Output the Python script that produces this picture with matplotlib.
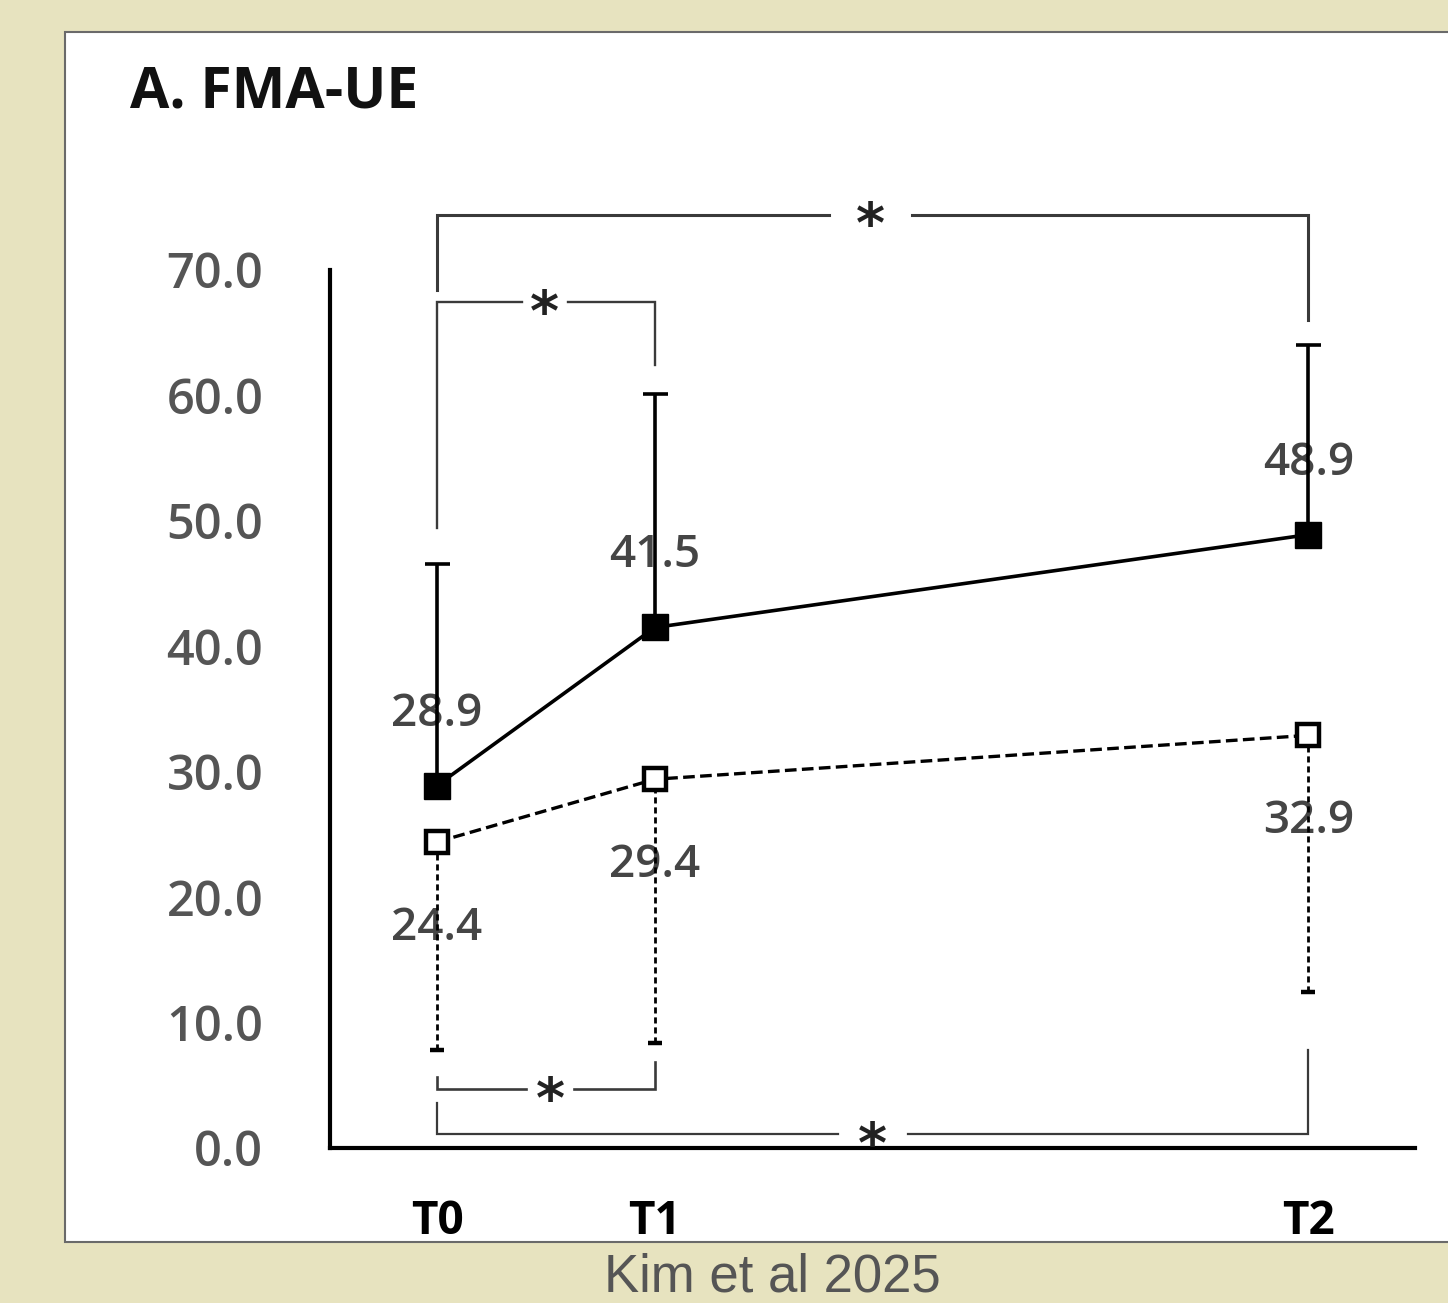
import matplotlib.pyplot as plt
from matplotlib.patches import Rectangle
import numpy as np

# data
time_labels = ["T0", "T1", "T2"]
time_pos = [0, 1, 4]
exp_mean = [28.9, 41.5, 48.9]
exp_sd = [17.7, 18.6, 15.1]
ctl_mean = [24.4, 29.4, 32.9]
ctl_sd = [16.6, 21.0, 20.5]
yticks = [0, 10, 20, 30, 40, 50, 60, 70]

# significance brackets: (x_start, x_end, y_line, y_leg_start, y_leg_end, gap_lo, gap_hi, lw)
brackets = [
    (0, 4, 74.4, 68.4, 66.0, 1.80, 2.18, 2.2),
    (0, 1, 67.45, 49.4, 62.4, 0.39, 0.60, 1.7),
    (0, 1, 4.7, 5.66, 6.86, 0.41, 0.63, 1.9),
    (0, 4, 1.1, 3.6, 7.8, 1.84, 2.16, 1.6),
]

W, H = 1448, 1303
fig = plt.figure(figsize=(W / 100, H / 100), dpi=100)
fig.patch.set_facecolor("#e7e3bf")
fig.patches.append(Rectangle((65 / W, 1 - 1242 / H), 1.0, (1242 - 32) / H,
                             transform=fig.transFigure, facecolor="white",
                             edgecolor="#6a6a6a", linewidth=1.5, zorder=-10))

ppu = (1148 - 270) / 70.0
y_top = 75.0
ax_top = 1148 - y_top * ppu
ax = fig.add_axes([330 / W, 1 - 1148 / H, (1415 - 330) / W, (1148 - ax_top) / H])
ax.set_facecolor("none")
ax.set_xlim(-0.4915, 4.49)
ax.set_ylim(0, y_top)

for s in ["top", "right"]:
    ax.spines[s].set_visible(False)
ax.spines["left"].set_bounds(0, 70)
ax.spines["left"].set_linewidth(3)
ax.spines["bottom"].set_linewidth(3)

ax.set_yticks(yticks)
ax.set_yticklabels([f"{v:.1f}" for v in yticks], fontsize=35, color="#555555",
                   fontfamily="Open Sans", fontweight="semibold")
ax.set_xticks(time_pos)
ax.set_xticklabels(time_labels, fontsize=33, color="black",
                   fontfamily="Open Sans", fontweight="bold")
ax.tick_params(axis="y", length=0, pad=48)
ax.tick_params(axis="x", length=0, pad=36)

# experimental group (filled, solid)
eb1 = ax.errorbar(time_pos, exp_mean, yerr=[np.zeros(3), exp_sd], color="black",
                  lw=2.6, capsize=9, capthick=2.6, elinewidth=2.6,
                  marker="s", markersize=19, mfc="black", mec="black", zorder=4)

# control group (open, dashed)
eb2 = ax.errorbar(time_pos, ctl_mean, yerr=[ctl_sd, np.zeros(3)], color="black",
                  lw=2.4, ls=(0, (3.5, 1.6)), capsize=5, capthick=1.4, elinewidth=2.0,
                  marker="s", markersize=16, mfc="white", mec="black", mew=3.2,
                  zorder=4)
eb2[2][0].set_linestyle((0, (2.2, 1.4)))
eb2[1][1].set_visible(False)
eb1[1][0].set_visible(False)

# value labels
for x, v in zip(time_pos, exp_mean):
    ax.text(x, v + 5.7, f"{v:.1f}", ha="center", va="center", fontsize=33,
            color="#454545", fontfamily="Open Sans", fontweight="semibold", zorder=3)
for x, v in zip(time_pos, ctl_mean):
    ax.text(x, v - 6.9, f"{v:.1f}", ha="center", va="center", fontsize=33,
            color="#454545", fontfamily="Open Sans", fontweight="semibold", zorder=3)

# brackets
for x0, x1, yl, yleg0, yleg1, g0, g1, lw in brackets:
    ax.plot([x0, x0, g0], [yleg0, yl, yl], color="#3a3a3a", lw=lw,
            solid_joinstyle="miter", clip_on=False)
    ax.plot([g1, x1, x1], [yl, yl, yleg1], color="#3a3a3a", lw=lw,
            solid_joinstyle="miter", clip_on=False)
    ax.text((g0 + g1) / 2, yl - 1.0, "*", ha="center", va="center", fontsize=40,
            fontweight="bold", color="#222222", fontfamily="DejaVu Sans",
            clip_on=False)

fig.text(130 / W, 1 - 92 / H, "A. FMA-UE", ha="left", va="center", fontsize=41,
         fontfamily="Open Sans", fontweight="bold", color="#111111")
fig.text(772 / W, 1 - 1277 / H, "Kim et al 2025", ha="center", va="center",
         fontsize=38, fontfamily="Liberation Sans", color="#555555")

fig.savefig("out.png", dpi=100, facecolor=fig.get_facecolor())
